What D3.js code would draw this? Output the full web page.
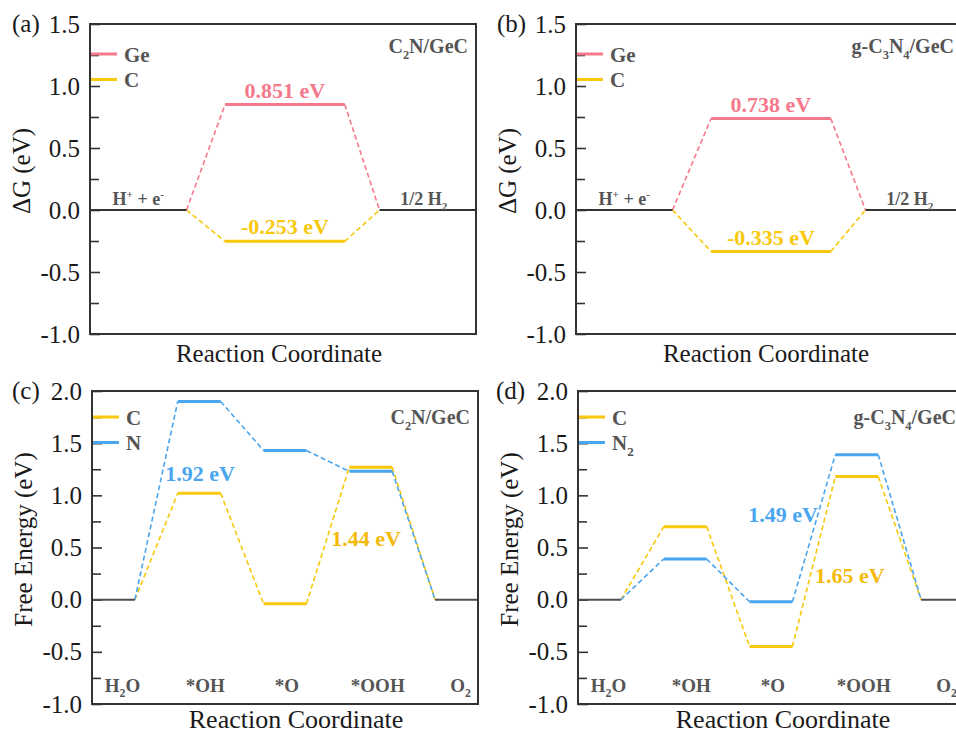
<!DOCTYPE html>
<html>
<head>
<meta charset="utf-8">
<script src="https://cdn.jsdelivr.net/npm/d3@7"></script>
<style>
  body { margin: 0; background: #fff; }
  svg { display: block; }
</style>
</head>
<body>
<div id="chart"></div>
<script>
// HER panels (a), (b): free energy of H adsorption at each site
const herStates = ['H^+ + e^-', '', '1/2 H_2'];
const herSites = ['Ge', 'C'];
const herGeC2N = [0, 0.851, 0];
const herCC2N = [0, -0.253, 0];
const herGeC3N4 = [0, 0.738, 0];
const herCC3N4 = [0, -0.335, 0];

// OER panels (c), (d)
const oerStates = ['H_2O', '*OH', '*O', '*OOH', 'O_2'];
const oerSitesC2N = ['C', 'N'];
const oerSitesC3N4 = ['C', 'N_2'];
const oerCC2N = [0, 1.02, -0.04, 1.27, 0];
const oerNC2N = [0, 1.9, 1.43, 1.23, 0];
const oerCC3N4 = [0, 0.7, -0.45, 1.18, 0];
const oerN2C3N4 = [0, 0.39, -0.02, 1.39, 0];

const yTicksHer = [-1.0, -0.5, 0.0, 0.5, 1.0, 1.5];
const yTicksOer = [-1.0, -0.5, 0.0, 0.5, 1.0, 1.5, 2.0];

const width = 956;
const height = 734;
const SERIF = '"Liberation Serif", "Times New Roman", serif';
const PINK = '#f4798c';
const YELLOW = '#f8c80c';
const ORANGE = '#f5b90a';
const BLUE = '#4aa5ef';
const GREY = '#555555';
const DARK = '#333333';

const svg = d3
  .select('#chart')
  .append('svg')
  .attr('width', width)
  .attr('height', height)
  .style('background', '#fff');

// write text with _x subscripts and ^x superscripts
function richText(textSel, str, fs) {
  let shift = 0;
  let buf = '';
  const flush = () => {
    if (!buf) return;
    textSel.append('tspan').attr('dy', -shift).text(buf);
    shift = 0;
    buf = '';
  };
  for (let i = 0; i < str.length; i++) {
    const ch = str[i];
    if ((ch === '_' || ch === '^') && i + 1 < str.length) {
      flush();
      const dy = ch === '_' ? 0.28 * fs : -0.38 * fs;
      textSel
        .append('tspan')
        .attr('dy', dy - shift)
        .attr('font-size', 0.62 * fs)
        .text(str[i + 1]);
      shift = dy;
      i++;
    } else {
      buf += ch;
    }
  }
  flush();
  if (shift !== 0) textSel.append('tspan').attr('dy', -shift).text('');
}

function drawPanel(cfg) {
  const g = svg.append('g');
  const y = d3.scaleLinear().domain(cfg.yDomain).range([cfg.top + cfg.h, cfg.top]);
  const x = d3.scaleLinear().domain(cfg.xDomain).range([cfg.left, cfg.left + cfg.w]);

  // major and minor inward ticks
  const minor = cfg.yTicks.slice(0, -1).map((t) => t + 0.25);
  g.append('g')
    .attr('transform', `translate(${cfg.left},0)`)
    .call(d3.axisLeft(y).tickValues(minor).tickSize(-9).tickFormat(''))
    .call((a) => a.select('.domain').remove())
    .call((a) => a.selectAll('line').attr('stroke', DARK).attr('stroke-width', 1.6));
  g.append('g')
    .attr('transform', `translate(${cfg.left},0)`)
    .call(
      d3.axisLeft(y).tickValues(cfg.yTicks).tickSize(-10).tickPadding(10)
        .tickFormat((d) => d.toFixed(1)),
    )
    .call((a) => a.select('.domain').remove())
    .call((a) => a.selectAll('line').attr('stroke', DARK).attr('stroke-width', 1.6))
    .call((a) =>
      a.selectAll('text').attr('font-family', SERIF).attr('font-size', 25).attr('fill', '#1a1a1a'),
    );

  g.append('text')
    .attr('x', cfg.letterX)
    .attr('y', cfg.top + 8)
    .attr('font-family', SERIF)
    .attr('font-size', 25)
    .attr('fill', '#1a1a1a')
    .text(cfg.letter);

  g.append('text')
    .attr('transform', `translate(${cfg.left - 60},${cfg.top + cfg.h / 2 - 8}) rotate(-90)`)
    .attr('text-anchor', 'middle')
    .attr('font-family', SERIF)
    .attr('font-size', 25)
    .attr('fill', '#1a1a1a')
    .text(cfg.yTitle);

  g.append('text')
    .attr('x', cfg.left + cfg.w / 2 + cfg.xTitleDx)
    .attr('y', cfg.top + cfg.h + cfg.xTitleDy)
    .attr('text-anchor', 'middle')
    .attr('font-family', SERIF)
    .attr('font-size', cfg.xTitleSize)
    .attr('fill', '#1a1a1a')
    .text('Reaction Coordinate');

  // material name, top right
  richText(
    g.append('text')
      .attr('x', cfg.left + cfg.w - 8)
      .attr('y', cfg.top + cfg.matDy)
      .attr('text-anchor', 'end')
      .attr('font-family', SERIF)
      .attr('font-weight', 'bold')
      .attr('font-size', 20)
      .attr('fill', GREY),
    cfg.material,
    20,
  );

  // legend
  cfg.series.forEach((s, i) => {
    const ly = cfg.top + cfg.legendDy + i * 25.5;
    g.append('line')
      .attr('x1', cfg.left)
      .attr('x2', cfg.left + 27)
      .attr('y1', ly)
      .attr('y2', ly)
      .attr('stroke', s.color)
      .attr('stroke-width', 3);
    richText(
      g.append('text')
        .attr('x', cfg.left + 34)
        .attr('y', ly + 7.5)
        .attr('font-family', SERIF)
        .attr('font-weight', 'bold')
        .attr('font-size', 21)
        .attr('fill', GREY),
      s.name,
      21,
    );
  });

  // series: dashed connectors then solid levels
  const last = cfg.spans.length - 1;
  cfg.series.forEach((s) => {
    const links = d3.range(last).map((i) => ({
      x1: x(cfg.spans[i][1]), y1: y(s.values[i]),
      x2: x(cfg.spans[i + 1][0]), y2: y(s.values[i + 1]),
    }));
    g.append('g')
      .selectAll('line')
      .data(links)
      .enter()
      .append('line')
      .attr('x1', (d) => d.x1).attr('y1', (d) => d.y1)
      .attr('x2', (d) => d.x2).attr('y2', (d) => d.y2)
      .attr('stroke', s.color)
      .attr('stroke-width', 1.6)
      .attr('stroke-dasharray', '5,3');
    g.append('g')
      .selectAll('line')
      .data(s.values.slice(1, last))
      .enter()
      .append('line')
      .attr('x1', (d, i) => x(cfg.spans[i + 1][0]))
      .attr('x2', (d, i) => x(cfg.spans[i + 1][1]))
      .attr('y1', (d) => y(d))
      .attr('y2', (d) => y(d))
      .attr('stroke', s.color)
      .attr('stroke-width', 3);
  });
  // shared end levels
  const ref = cfg.series[0].values;
  [0, last].forEach((i) => {
    g.append('line')
      .attr('x1', x(cfg.spans[i][0]))
      .attr('x2', x(cfg.spans[i][1]))
      .attr('y1', y(ref[i]))
      .attr('y2', y(ref[i]))
      .attr('stroke', cfg.endColor)
      .attr('stroke-width', 2);
  });

  // state labels
  cfg.states.forEach((st, i) => {
    if (!st) return;
    const cx = x((cfg.spans[i][0] + cfg.spans[i][1]) / 2) + cfg.stateDx[i];
    richText(
      g.append('text')
        .attr('x', cx)
        .attr('y', cfg.stateY(y))
        .attr('text-anchor', 'middle')
        .attr('font-family', SERIF)
        .attr('font-weight', 'bold')
        .attr('font-size', cfg.stateSize)
        .attr('fill', GREY),
      st,
      cfg.stateSize,
    );
  });

  // energy annotations
  cfg.notes.forEach((n) => {
    g.append('text')
      .attr('x', x(n.x))
      .attr('y', y(n.y) + (n.dy || 0))
      .attr('text-anchor', 'middle')
      .attr('font-family', SERIF)
      .attr('font-weight', 'bold')
      .attr('font-size', 22)
      .attr('fill', n.color)
      .text(n.text);
  });

  // frame
  g.append('rect')
    .attr('x', cfg.left)
    .attr('y', cfg.top)
    .attr('width', cfg.w)
    .attr('height', cfg.h)
    .attr('fill', 'none')
    .attr('stroke', DARK)
    .attr('stroke-width', 2);
}

const herSpans = [[0, 2.5], [3.5, 6.6], [7.5, 10]];
const oerSpans = oerStates.map((s, i) => [2 * i, 2 * i + 1]);

const herBase = {
  xDomain: [0, 10], yDomain: [-1, 1.5], yTicks: yTicksHer, h: 310, w: 386,
  yTitle: 'ΔG (eV)', xTitleSize: 25, xTitleDy: 28, matDy: 29, legendDy: 30,
  spans: herSpans, states: herStates, stateDx: [0, 0, -4], stateSize: 18,
  stateY: (y) => y(0) - 5, endColor: DARK,
};

drawPanel({
  ...herBase, letter: '(a)', letterX: 12, left: 90, top: 24, xTitleDx: -4,
  material: 'C_2N/GeC',
  series: [
    { name: herSites[0], color: PINK, values: herGeC2N },
    { name: herSites[1], color: YELLOW, values: herCC2N },
  ],
  notes: [
    { text: `${herGeC2N[1].toFixed(3)} eV`, x: 5.05, y: herGeC2N[1], dy: -6, color: PINK },
    { text: `${herCC2N[1].toFixed(3)} eV`, x: 5.05, y: herCC2N[1], dy: -7, color: YELLOW },
  ],
});

drawPanel({
  ...herBase, letter: '(b)', letterX: 497, left: 576, top: 24, xTitleDx: -3,
  material: 'g-C_3N_4/GeC',
  series: [
    { name: herSites[0], color: PINK, values: herGeC3N4 },
    { name: herSites[1], color: YELLOW, values: herCC3N4 },
  ],
  notes: [
    { text: `${herGeC3N4[1].toFixed(3)} eV`, x: 5.05, y: herGeC3N4[1], dy: -6, color: PINK },
    { text: `${herCC3N4[1].toFixed(3)} eV`, x: 5.05, y: herCC3N4[1], dy: -7, color: YELLOW },
  ],
});

const oerBase = {
  xDomain: [0, 9], yDomain: [-1, 2], yTicks: yTicksOer, h: 313, w: 386,
  yTitle: 'Free Energy (eV)', xTitleSize: 26, xTitleDy: 24, matDy: 33, legendDy: 26,
  spans: oerSpans, states: oerStates, stateDx: [9, 6, 2, 7, 4], stateSize: 19,
  stateY: (y) => y(-1) - 12, endColor: '#4d4f55',
};

drawPanel({
  ...oerBase, letter: '(c)', letterX: 12, left: 92, top: 391, xTitleDx: 11,
  material: 'C_2N/GeC',
  series: [
    { name: oerSitesC2N[0], color: YELLOW, values: oerCC2N },
    { name: oerSitesC2N[1], color: BLUE, values: oerNC2N },
  ],
  notes: [
    { text: '1.92 eV', x: 2.52, y: 1.137, color: BLUE },
    { text: '1.44 eV', x: 6.39, y: 0.514, color: ORANGE },
  ],
});

drawPanel({
  ...oerBase, letter: '(d)', letterX: 496, left: 578, top: 391, xTitleDx: 12,
  material: 'g-C_3N_4/GeC',
  series: [
    { name: oerSitesC3N4[0], color: YELLOW, values: oerCC3N4 },
    { name: oerSitesC3N4[1], color: BLUE, values: oerN2C3N4 },
  ],
  notes: [
    { text: '1.49 eV', x: 4.78, y: 0.741, color: BLUE },
    { text: '1.65 eV', x: 6.34, y: 0.156, color: ORANGE },
  ],
});
</script>
</body>
</html>
